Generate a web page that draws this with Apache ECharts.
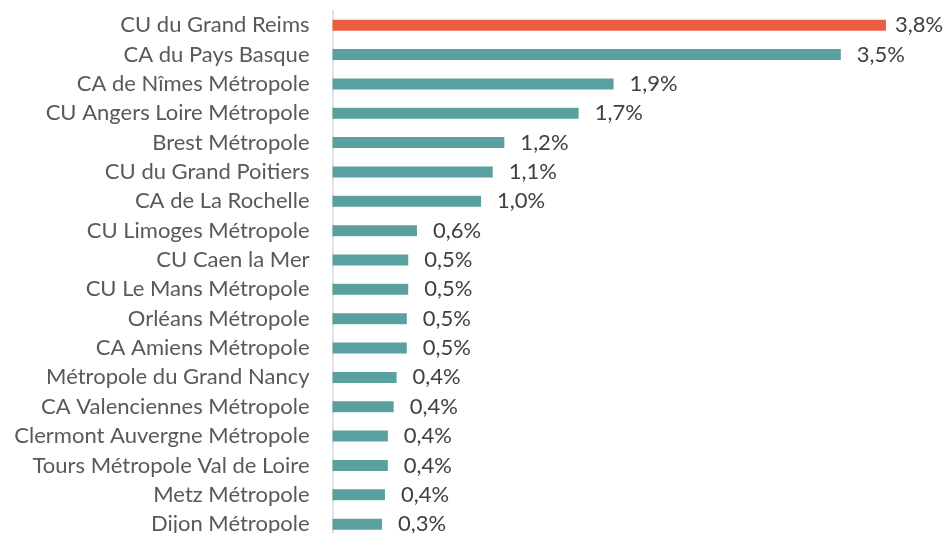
<!DOCTYPE html>
<html>
<head>
<meta charset="utf-8">
<script src="https://cdn.jsdelivr.net/npm/echarts@6/dist/echarts.min.js"></script>
<style>
  html, body { margin: 0; padding: 0; background: #fff; }
  #chart { width: 944px; height: 533px; }
</style>
</head>
<body>
<div id="chart"></div>
<script>
// territoires, du haut vers le bas
const territoires = [
  'CU du Grand Reims',
  'CA du Pays Basque',
  'CA de Nîmes Métropole',
  'CU Angers Loire Métropole',
  'Brest Métropole',
  'CU du Grand Poitiers',
  'CA de La Rochelle',
  'CU Limoges Métropole',
  'CU Caen la Mer',
  'CU Le Mans Métropole',
  'Orléans Métropole',
  'CA Amiens Métropole',
  'Métropole du Grand Nancy',
  'CA Valenciennes Métropole',
  'Clermont Auvergne Métropole',
  'Tours Métropole Val de Loire',
  'Metz Métropole',
  'Dijon Métropole'
]
// part en %
const parts = [3.80, 3.49, 1.93, 1.69, 1.18, 1.10, 1.02, 0.58, 0.52, 0.52, 0.51, 0.51,
  0.44, 0.42, 0.38, 0.38, 0.36, 0.34]

const rouge = '#EA5D40'
const bleu = '#5AA09F'

let chart = echarts.init(document.getElementById('chart'))

let data = parts.map((v, i) => {
  let item = { value: v }
  if (i === 0) {
    item.itemStyle = { color: rouge }
    item.label = { distance: 9 }
  }
  return item
})

let option = {
  animation: false,
  grid: {
    left: 332.5,
    top: 10.5,
    height: 528.3,
    width: 582.6,
    outerBoundsMode: 'none',
    containLabel: false
  },
  xAxis: {
    type: 'value',
    min: 0,
    max: 4,
    show: false
  },
  yAxis: {
    type: 'category',
    inverse: true,
    data: territoires,
    axisLine: { show: true, lineStyle: { color: '#d9d9d9', width: 1.5 } },
    axisTick: { show: false },
    axisLabel: {
      interval: 0,
      margin: 23,
      color: '#595959',
      fontFamily: 'Lato',
      fontSize: 22
    }
  },
  series: [{
    type: 'bar',
    data: data,
    barWidth: 11,
    itemStyle: { color: bleu },
    label: {
      show: true,
      position: 'right',
      distance: 16,
      color: '#404040',
      fontFamily: 'Lato',
      fontSize: 22,
      formatter: p => p.value.toFixed(1).replace('.', ',') + '%'
    }
  }]
}
chart.setOption(option)
</script>
</body>
</html>
